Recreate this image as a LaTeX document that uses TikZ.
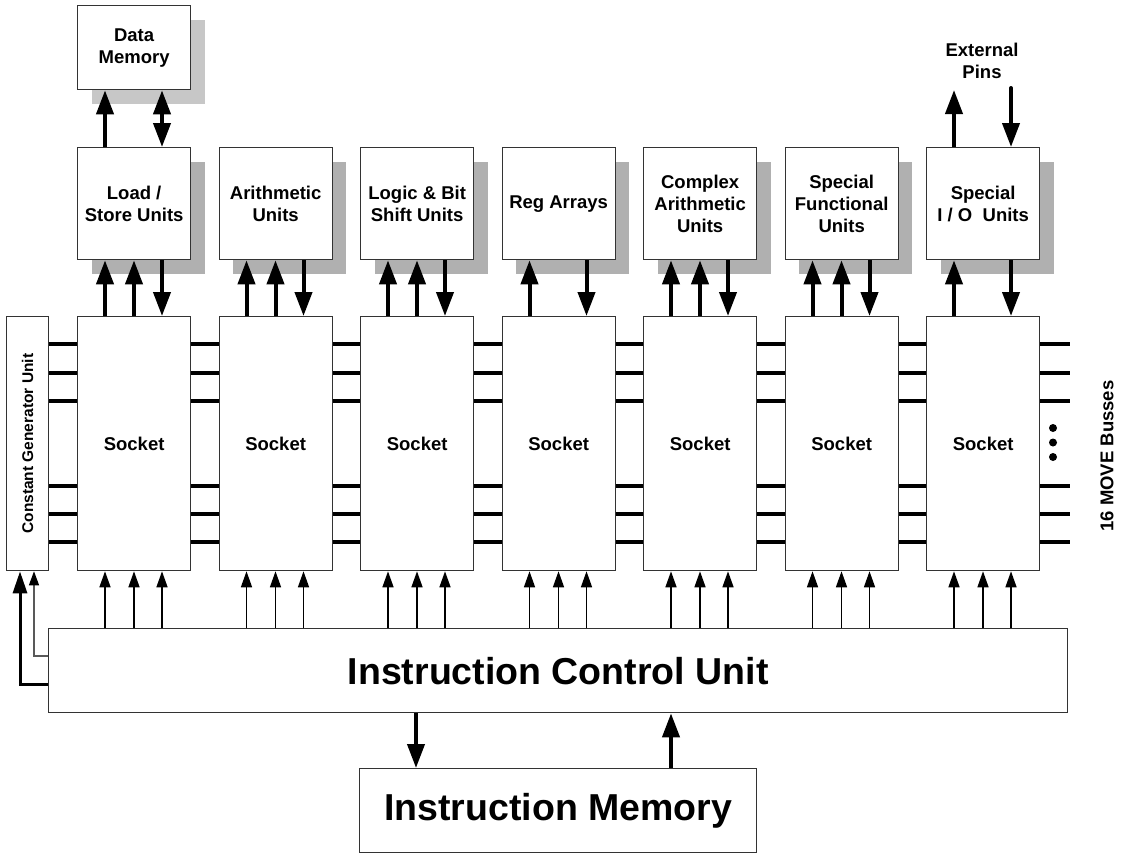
\documentclass[tikz,border=0pt]{standalone}
\usepackage{fontspec}
\setmainfont{Liberation Sans}
\usetikzlibrary{arrows.meta,shadows}
\definecolor{shadowunit}{gray}{0.69}
\definecolor{shadowmem}{gray}{0.78}
\definecolor{boxline}{gray}{0.2}
\begin{document}
\begin{tikzpicture}[x=1pt,y=-1pt,
  box/.style={draw=boxline, line width=1.3pt, fill=white, inner sep=0pt, align=center,
    anchor=north west, font=\bfseries\fontsize{18.5}{22}\selectfont},
  unitbox/.style={box, minimum width=113pt, minimum height=112pt,
    drop shadow={shadow xshift=14pt, shadow yshift=-14pt, fill=shadowunit, opacity=1}},
  membox/.style={box, minimum width=113pt, minimum height=84pt,
    drop shadow={shadow xshift=14pt, shadow yshift=-14pt, fill=shadowmem, opacity=1}},
  socketbox/.style={box, minimum width=113pt, minimum height=254pt},
  bigarrow/.style={line width=4pt, -{Triangle[length=24pt,width=17pt]}},
  bigdouble/.style={line width=4pt, {Triangle[length=24pt,width=17pt]}-{Triangle[length=24pt,width=17pt]}},
  ctrlarrow/.style={line width=1.5pt, -{Triangle[length=16pt,width=11pt]}},
  cgthick/.style={line width=3pt, -{Triangle[length=22pt,width=14pt]}},
  cgthin/.style={line width=1.2pt, draw=black!65, -{Triangle[length=14pt,width=10pt,color=black]}},
  bus/.style={line width=4pt},
  lbl/.style={font=\bfseries\fontsize{18.5}{22}\selectfont, align=center, inner sep=0pt}
]
\useasboundingbox (0,0) rectangle (1121,854);

% Data memory
\node[membox] (dm) at (77,5) {Data\\Memory};

% Units
\foreach \i/\txt in {0/{Load /\\Store Units},1/{Arithmetic\\Units},2/{Logic \& Bit\\Shift Units},
  3/{Reg Arrays},4/{Complex\\Arithmetic\\Units},5/{Special\\Functional\\Units},6/{Special\\I / O\ \ Units}}{
  \node[unitbox] (u\i) at (77+141.5*\i,147) {\txt};
  \node[socketbox] (s\i) at (77+141.5*\i,316) {Socket};
}

% Constant generator unit
\node[box, minimum width=42pt, minimum height=254pt] (cgu) at (6,316) {};
\node[lbl, rotate=90, font=\bfseries\fontsize{15.5}{18}\selectfont] (cgutxt) at (cgu.center) {Constant Generator Unit};

% Instruction control unit and memory
\node[box, minimum width=1019pt, minimum height=84pt, font=\bfseries\fontsize{37.5}{40}\selectfont] (icu) at (48,628) {Instruction Control Unit};
\node[box, minimum width=397pt, minimum height=84pt, font=\bfseries\fontsize{37.5}{40}\selectfont] (im) at (359,768) {Instruction Memory};

% Socket <-> unit arrows
\foreach \i in {0,1,2,4,5}{
  \draw[bigarrow] ([xshift=28pt]s\i.north west) -- ([xshift=28pt]u\i.south west);
  \draw[bigarrow] ([xshift=57pt]s\i.north west) -- ([xshift=57pt]u\i.south west);
  \draw[bigarrow] ([xshift=85pt]u\i.south west) -- ([xshift=85pt]s\i.north west);
}
\foreach \i in {3,6}{
  \draw[bigarrow] ([xshift=28pt]s\i.north west) -- ([xshift=28pt]u\i.south west);
  \draw[bigarrow] ([xshift=85pt]u\i.south west) -- ([xshift=85pt]s\i.north west);
}

% Data memory arrows
\draw[bigarrow] ([xshift=28pt]u0.north west) -- ([xshift=28pt]dm.south west);
\draw[bigdouble] ([xshift=85pt]dm.south west) -- ([xshift=85pt]u0.north west);

% External pins
\node[lbl] (ext) at (982,61) {External\\Pins};
\coordinate (ep1) at ([xshift=28pt,yshift=57pt]u6.north west);
\coordinate (ep2) at ([xshift=85pt,yshift=59pt]u6.north west);
\draw[bigarrow] ([xshift=28pt]u6.north west) -- (ep1);
\draw[bigarrow, line cap=round] (ep2) -- ([xshift=85pt]u6.north west);

% Busses
\foreach \d in {28,57,85,170,198,226}{
  \draw[bus] ([yshift=-\d pt]cgu.north east) -- ([yshift=-\d pt]s0.north west);
  \foreach \i/\j in {0/1,1/2,2/3,3/4,4/5,5/6}{
    \draw[bus] ([yshift=-\d pt]s\i.north east) -- ([yshift=-\d pt]s\j.north west);
  }
  \coordinate (be\d) at ([xshift=30pt,yshift=-\d pt]s6.north east);
  \draw[bus] ([yshift=-\d pt]s6.north east) -- (be\d);
}
\fill (1053,428) circle (4pt);
\fill (1053,442.5) circle (4pt);
\fill (1053,457) circle (4pt);
\node[lbl, rotate=90] (busses) at (1107,456) {16 MOVE Busses};

% Control arrows
\foreach \i in {0,...,6}{
  \foreach \o in {28,57,85}{
    \coordinate (c\i-\o) at ([xshift=\o pt]s\i.south west);
    \draw[ctrlarrow] (c\i-\o |- icu.north) -- (c\i-\o);
  }
}

% Constant generator feed
\draw[cgthick] ([yshift=-56pt]icu.north west) -| ([xshift=14pt]cgu.south west);
\draw[cgthin] ([yshift=-28pt]icu.north west) -| ([xshift=28pt]cgu.south west);

% ICU <-> IM
\coordinate (im1) at ([xshift=57pt]im.north west);
\coordinate (im2) at ([xshift=312pt]im.north west);
\draw[bigarrow] (im1 |- icu.south) -- (im1);
\draw[bigarrow] (im2) -- (im2 |- icu.south);
\end{tikzpicture}
\end{document}
